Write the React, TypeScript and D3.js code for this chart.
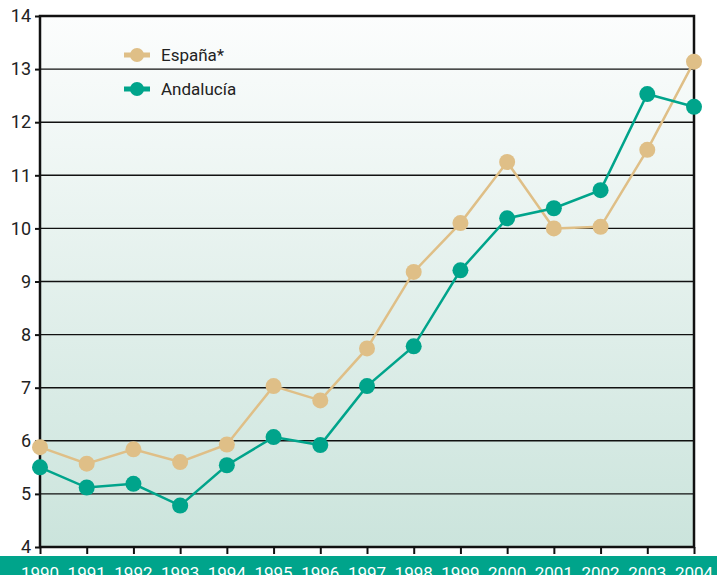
import React, { useRef, useEffect } from 'react';
import * as d3 from 'd3';

const years = [1990, 1991, 1992, 1993, 1994, 1995, 1996, 1997, 1998, 1999, 2000, 2001, 2002, 2003, 2004];
const espana = [5.88, 5.57, 5.84, 5.6, 5.93, 7.03, 6.76, 7.74, 9.18, 10.1, 11.25, 10.0, 10.03, 11.48, 13.14];
const andalucia = [5.5, 5.12, 5.19, 4.78, 5.54, 6.07, 5.92, 7.03, 7.78, 9.21, 10.19, 10.38, 10.72, 12.53, 12.29];
const yTicks = [4, 5, 6, 7, 8, 9, 10, 11, 12, 13, 14];
const seriesNames = ['España*', 'Andalucía'];
const seriesColors = ['#dfbf87', '#00a48b'];

const App = () => {
    const svgRef = useRef<SVGSVGElement>(null);
    const width = 717;
    const height = 575;

    useEffect(() => {
        const svg = d3.select(svgRef.current);
        svg.selectAll('*').remove();

        const margin = { top: 16, right: 23, bottom: 28, left: 40 };
        const innerWidth = width - margin.left - margin.right;
        const innerHeight = height - margin.top - margin.bottom;
        const font = 'Roboto, "Liberation Sans", sans-serif';

        const x = d3.scaleLinear().domain([1990, 2004]).range([0, innerWidth]);
        const y = d3.scaleLinear().domain([4, 14]).range([innerHeight, 0]);

        // background gradient
        const defs = svg.append('defs');
        const grad = defs.append('linearGradient')
            .attr('id', 'bg').attr('x1', 0).attr('y1', 0).attr('x2', 0).attr('y2', 1);
        grad.append('stop').attr('offset', '0%').attr('stop-color', '#fcfdfd');
        grad.append('stop').attr('offset', '100%').attr('stop-color', '#cbe4dc');

        const chart = svg.append('g').attr('transform', `translate(${margin.left},${margin.top})`);

        chart.append('rect')
            .attr('width', innerWidth).attr('height', innerHeight)
            .attr('fill', 'url(#bg)');

        // gridlines
        chart.selectAll('line.grid')
            .data(yTicks)
            .enter()
            .append('line')
            .attr('class', 'grid')
            .attr('x1', 0).attr('x2', innerWidth)
            .attr('y1', (d) => y(d)).attr('y2', (d) => y(d))
            .attr('stroke', '#111').attr('stroke-width', 1.4);

        // frame
        chart.append('rect')
            .attr('width', innerWidth).attr('height', innerHeight)
            .attr('fill', 'none').attr('stroke', '#111').attr('stroke-width', 2.5);

        // axes
        const yAxis = chart.append('g')
            .call(d3.axisLeft(y).tickValues(yTicks).tickSize(5).tickFormat(d3.format('d')));
        yAxis.select('.domain').remove();
        yAxis.selectAll('line').attr('stroke', '#111').attr('stroke-width', 2);
        yAxis.selectAll('text')
            .attr('font-family', font).attr('font-size', 18).attr('fill', '#222')
            .attr('x', -9);

        const xAxis = chart.append('g')
            .attr('transform', `translate(0,${innerHeight})`)
            .call(d3.axisBottom(x).tickValues(years).tickSize(7).tickFormat(() => ''));
        xAxis.select('.domain').remove();
        xAxis.selectAll('line').attr('stroke', '#111').attr('stroke-width', 2);

        // bottom band with year labels (cut by the lower edge, as in the original)
        svg.append('rect')
            .attr('x', 0).attr('y', 556).attr('width', width).attr('height', height - 556)
            .attr('fill', '#00a48b');
        svg.append('g')
            .selectAll('text')
            .data(years)
            .enter()
            .append('text')
            .attr('x', (d) => margin.left + x(d))
            .attr('y', 579)
            .attr('text-anchor', 'middle')
            .attr('font-family', font).attr('font-size', 17)
            .attr('fill', '#fff')
            .text((d) => d);

        // series
        const line = d3.line<number>()
            .x((d, i) => x(years[i]))
            .y((d) => y(d));

        [espana, andalucia].forEach((values, s) => {
            chart.append('path')
                .datum(values)
                .attr('d', line)
                .attr('fill', 'none')
                .attr('stroke', seriesColors[s])
                .attr('stroke-width', 2.5);
            chart.selectAll(`circle.s${s}`)
                .data(values)
                .enter()
                .append('circle')
                .attr('class', `s${s}`)
                .attr('cx', (d, i) => x(years[i]))
                .attr('cy', (d) => y(d))
                .attr('r', 8)
                .attr('fill', seriesColors[s]);
        });

        // legend
        const legend = svg.append('g').attr('transform', 'translate(124,55)');
        seriesNames.forEach((name, i) => {
            const g = legend.append('g').attr('transform', `translate(0,${i * 34})`);
            g.append('line')
                .attr('x1', 0).attr('x2', 26).attr('y1', 0).attr('y2', 0)
                .attr('stroke', seriesColors[i]).attr('stroke-width', 5);
            g.append('circle').attr('cx', 13).attr('cy', 0).attr('r', 7).attr('fill', seriesColors[i]);
            g.append('text')
                .attr('x', 37).attr('y', 6)
                .attr('font-family', font).attr('font-size', 17).attr('fill', '#222')
                .text(name);
        });
    }, []);

    return (
        <svg ref={svgRef} width={width} height={height}
            style={{ position: 'absolute', left: 0, top: 0, display: 'block' }}></svg>
    );
};

export default App;
